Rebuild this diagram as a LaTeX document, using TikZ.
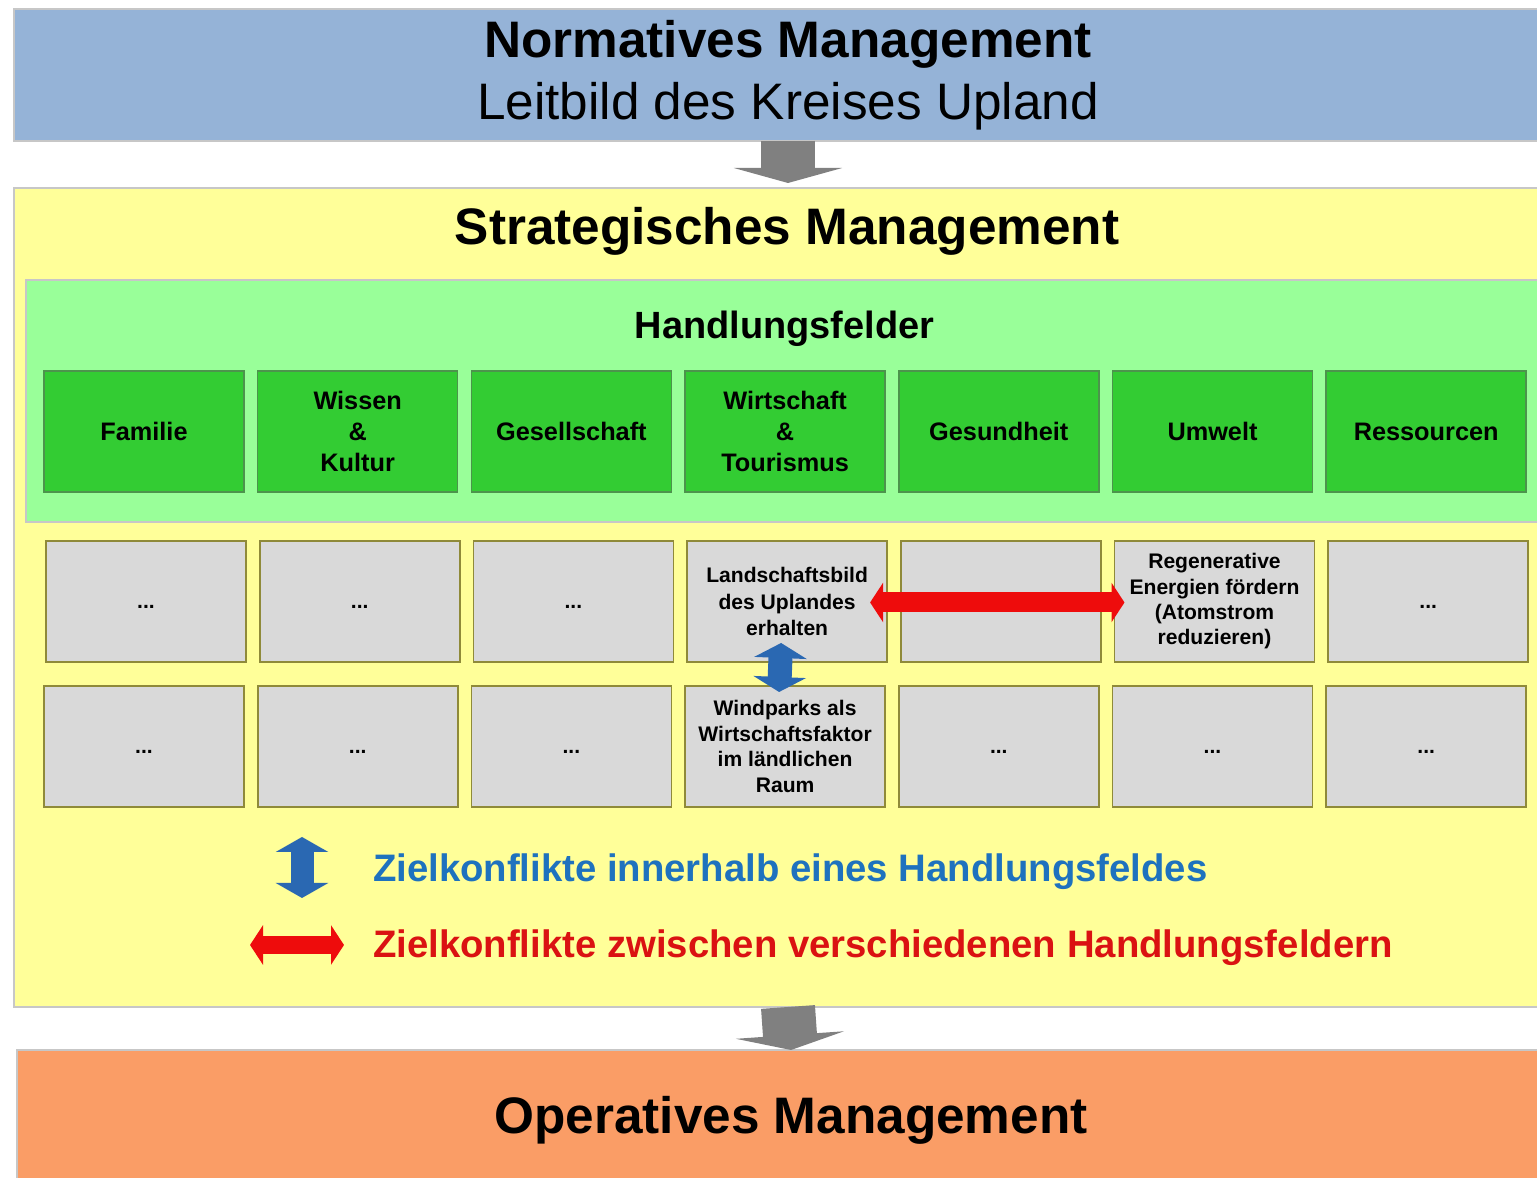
\documentclass[tikz,border=0pt]{standalone}
\usepackage{fontspec}
\setmainfont{Liberation Sans}
\usetikzlibrary{
    arrows.meta,
    calc,
    positioning
}
\definecolor{normblue}{RGB}{149,179,215}
\definecolor{stratyellow}{RGB}{255,255,153}
\definecolor{feldgreen}{RGB}{153,255,153}
\definecolor{boxgreen}{RGB}{51,204,51}
\definecolor{zielgray}{RGB}{217,217,217}
\definecolor{operorange}{RGB}{250,157,102}
\definecolor{konfblue}{RGB}{42,104,178}
\definecolor{konfred}{RGB}{238,12,12}
\definecolor{textblue}{RGB}{30,114,190}
\definecolor{textred}{RGB}{218,18,18}
\newcommand{\zielpunkte}{\vphantom{X}...}

\begin{document}
\begin{tikzpicture}[x=0.1mm, y=-0.1mm, node distance=1.37mm,
    every node/.style={inner sep=0pt, outer sep=0pt, align=center},
    layer/.style={draw=black!22, line width=0.4pt, minimum width=154.8mm},
    feld/.style={draw=green!40!black!70, fill=boxgreen, line width=0.4pt,
        minimum width=20mm, minimum height=12.1mm,
        font=\fontsize{7.2}{8.8}\selectfont\bfseries},
    ziel/.style={draw=olive!60!gray, fill=zielgray, line width=0.5pt,
        minimum width=20mm, minimum height=12.1mm,
        font=\fontsize{6}{7.3}\selectfont\bfseries},
    bigtitle/.style={font=\fontsize{14.6}{17.6}\selectfont\bfseries},
    legend/.style={anchor=base west, font=\fontsize{10.9}{13}\selectfont\bfseries},
    flow/.style={black!50, line width=5.4mm, -{Triangle[width=10.8mm, length=1.5mm]}},
    konf/.style={line width=2mm, {Triangle[width=3.9mm, length=1.3mm]}-{Triangle[width=3.9mm, length=1.3mm]}},
    konfv/.style={line width=2.4mm, {Triangle[width=5.2mm, length=1.5mm]}-{Triangle[width=5.2mm, length=1.5mm]}}]
        \useasboundingbox (0,0) rectangle (1537,1178);
        \clip (0,0) rectangle (1537,1178);
        \fill[white] (0,0) rectangle (1537,1178);
        % three management levels
        \node[layer, fill=normblue, minimum height=13.2mm, font=\fontsize{14.6}{17.6}\selectfont] (norm) at (788,75)
            {\textbf{Normatives Management}\\Leitbild des Kreises Upland};
        \node[layer, fill=stratyellow, minimum height=81.9mm] (strat) at (788,597.5) {};
        \node[bigtitle, anchor=base] (strattitle) at (787,245) {Strategisches Management};
        \node[layer, fill=operorange, minimum height=14mm, bigtitle] (oper) at (791,1120) {Operatives Management};
        \draw[flow] (norm.south) -- ([yshift=0.5mm]strat.north);
        \draw[flow] (strat.south) -- (oper.north);
        % Handlungsfelder
        \node[draw=black!22, fill=feldgreen, minimum width=152.4mm, minimum height=24.2mm] (felder) at (788,401) {};
        \node[anchor=base, font=\fontsize{10.8}{13}\selectfont\bfseries] (feldtitle) at (784.5,339) {Handlungsfelder};
        \node[feld, anchor=north west] (fam) at (44,371) {Familie};
        \node[feld, right=of fam] (wis) {Wissen\\\&\\Kultur};
        \node[feld, right=of wis] (ges) {Gesellschaft};
        \node[feld, right=of ges] (wirt) {Wirtschaft\\\&\\Tourismus};
        \node[feld, right=of wirt] (gesu) {Gesundheit};
        \node[feld, right=of gesu] (umw) {Umwelt};
        \node[feld, right=of umw] (res) {Ressourcen};
        % Ziele, erste Reihe
        \node[ziel, anchor=north west] (zfam) at (46,541) {\zielpunkte};
        \node[ziel, right=of zfam] (zwis) {\zielpunkte};
        \node[ziel, right=of zwis] (zges) {\zielpunkte};
        \node[ziel, right=of zges, font=\fontsize{6}{7.6}\selectfont\bfseries] (land) {Landschaftsbild\\des Uplandes\\erhalten};
        \node[ziel, right=of land] (zgesu) {};
        \node[ziel, right=of zgesu, font=\fontsize{6}{7.2}\selectfont\bfseries] (regen) {Regenerative\\Energien fördern\\(Atomstrom\\reduzieren)};
        \node[ziel, right=of regen] (zres) {\zielpunkte};
        % Ziele, zweite Reihe
        \node[ziel, anchor=north west] (wfam) at (44,686) {\zielpunkte};
        \node[ziel, right=of wfam] (wwis) {\zielpunkte};
        \node[ziel, right=of wwis] (wges) {\zielpunkte};
        \node[ziel, right=of wges] (wind) {Windparks als\\Wirtschaftsfaktor\\im ländlichen\\Raum};
        \node[ziel, right=of wind] (wgesu) {\zielpunkte};
        \node[ziel, right=of wgesu] (wumw) {\zielpunkte};
        \node[ziel, right=of wumw] (wres) {\zielpunkte};
        % Zielkonflikte
        \draw[konf, konfred] ([xshift=-1.7mm, yshift=-0.1mm]land.east) -- ([xshift=1mm, yshift=-0.1mm]regen.west);
        \draw[konfv, konfblue] ([xshift=-0.6mm, yshift=1.9mm]land.south) -- ([xshift=-0.6mm, yshift=-0.6mm]wind.north);
        % legend
        \coordinate (blueup) at (302,837);
        \coordinate (bluedown) at (302,898);
        \coordinate (redleft) at (250,945);
        \coordinate (redright) at (344,945);
        \draw[konfv, konfblue, line width=2.3mm] (bluedown) -- (blueup);
        \draw[konf, konfred, line width=1.8mm] (redleft) -- (redright);
        \node[legend, textblue] (legblue) at (373,882) {Zielkonflikte innerhalb eines Handlungsfeldes};
        \node[legend, textred] (legred) at (373,958) {Zielkonflikte zwischen verschiedenen Handlungsfeldern};
    \end{tikzpicture}
\end{document}
